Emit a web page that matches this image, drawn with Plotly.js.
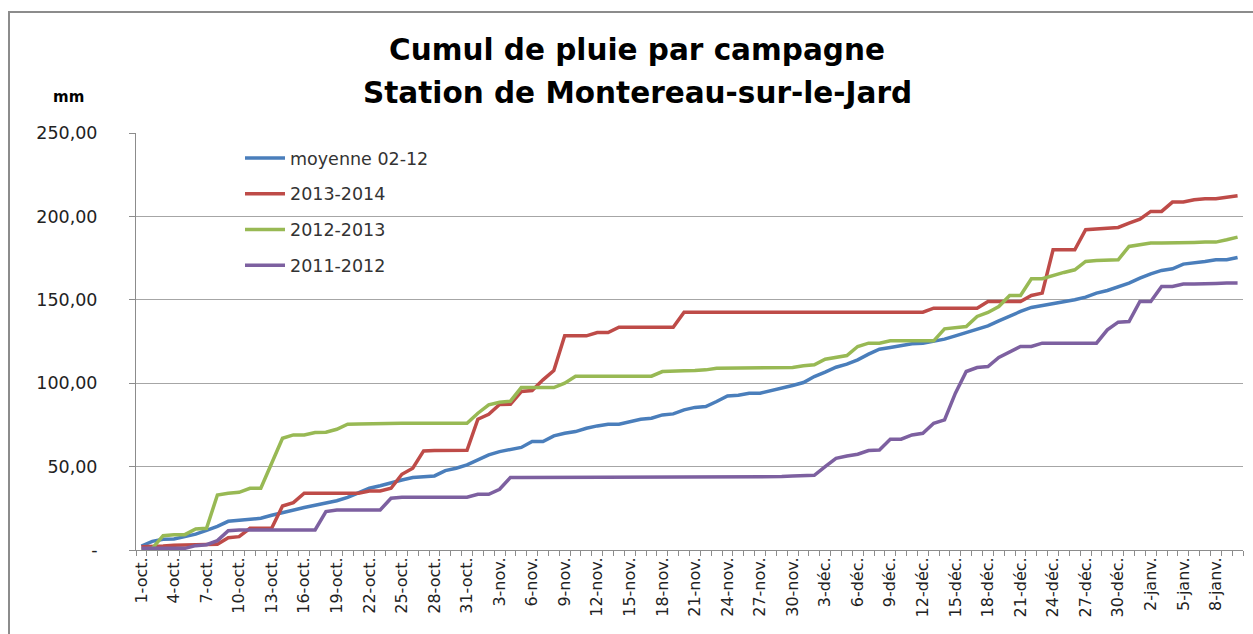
<!DOCTYPE html>
<html>
<head>
<meta charset="utf-8">
<script src="https://cdn.plot.ly/plotly-3.0.1.min.js"></script>
<style>
  html, body { margin: 0; padding: 0; background: #ffffff; }
  #chart { width: 1253px; height: 634px; }
</style>
</head>
<body>
<div id="chart"></div>
<script>
// Day categories: 1-oct. to 10-janv.
const monthNames = ["oct.", "nov.", "déc.", "janv."];
const monthDays = [31, 30, 31, 10];
const categories = [];
monthNames.forEach(function (m, k) {
  for (let d = 1; d <= monthDays[k]; d++) categories.push(d + "-" + m);
});

const yTickValues = [0, 50, 100, 150, 200, 250];
const yTickLabels = ["-", "50,00", "100,00", "150,00", "200,00", "250,00"];

const titleLines = ["Cumul de pluie par campagne", "Station de Montereau-sur-le-Jard"];
const unitLabel = "mm";

const moyenne0212 = [
  2.4, 5.2, 6.4, 6.6, 8, 9.5, 11.8, 14.2, 17.2, 17.8,
  18.2, 19, 20.8, 22.5, 24, 25.5, 26.8, 28, 29.5, 31.5,
  34, 37, 38.5, 40.5, 42, 43.5, 44.2, 44.4, 47.6, 49,
  51, 54, 57, 59, 60.4, 61.5, 65, 65, 68.4, 70,
  71, 73, 74.4, 75.4, 75.4, 77, 78.4, 79, 81, 81.6,
  84, 85.5, 86, 89, 92.4, 92.8, 94, 94, 95.4, 97,
  98.6, 100.4, 104, 106.6, 109.6, 111.4, 114, 117.4, 120.4, 121.4,
  122.6, 123.6, 124, 125.4, 126.4, 128.4, 130.4, 132.4, 134.4, 137.4,
  140.4, 143, 145.4, 146.6, 147.6, 148.6, 150, 151.6, 154, 155.6,
  158, 160, 163, 165.6, 167.6, 168.6, 171.4, 172, 173, 174,
  174, 175.4
];

const s2013_2014 = [
  2, 2, 2.4, 2.8, 3, 3.2, 3.4, 3.4, 7.4, 8,
  13, 13, 13, 26.4, 28.4, 34, 34, 34, 34, 34,
  34, 35.4, 35.4, 37, 45.4, 49, 59.4, 59.6, 59.6, 59.6,
  59.8, 78.4, 81.4, 87.2, 87.4, 95, 95.6, 102, 107.6, 128.4,
  128.4, 128.4, 130.4, 130.4, 133.6, 133.6, 133.6, 133.6, 133.6, 133.6,
  142.6, 142.6, 142.6, 142.6, 142.6, 142.6, 142.6, 142.6, 142.6, 142.6,
  142.6, 142.6, 142.6, 142.6, 142.6, 142.6, 142.6, 142.6, 142.6, 142.6,
  142.6, 142.6, 142.6, 145, 145, 145, 145, 145, 149, 149,
  149, 149, 152.6, 154, 180, 180, 180, 192, 192.4, 192.6,
  193.4, 196, 198.4, 203, 203, 208.6, 208.6, 210, 210.6, 210.6,
  211.4, 212.4
];

const s2012_2013 = [
  0.5, 1, 8.6, 9.2, 9.2, 12.6, 13, 33, 34, 34.6,
  37, 37, 52, 67, 69, 69, 70.4, 70.6, 72.4, 75.4,
  75.6, 75.8, 76, 76, 76, 76, 76, 76, 76, 76,
  76, 82, 87, 88.6, 89.2, 97.4, 97.4, 97.4, 97.4, 100,
  104.2, 104.2, 104.2, 104.2, 104.2, 104.2, 104.2, 104.2, 107, 107,
  107.4, 107.6, 108, 109, 109, 109, 109, 109.4, 109.4, 109.4,
  109.4, 110.4, 111, 114.4, 115.6, 116.6, 122, 124, 124, 125.4,
  125.4, 125.4, 125.4, 125.4, 132.6, 133.2, 134, 140, 142.4, 146,
  152.6, 152.6, 162.6, 162.6, 164.6, 166.4, 168, 173, 173.6, 174,
  174, 182, 183, 184, 184, 184, 184, 184.4, 184.6, 184.6,
  186, 187.6
];

const s2011_2012 = [
  1, 1, 1, 1, 1, 2.6, 3.2, 5.6, 11.6, 12,
  12, 12, 12, 12, 12, 12, 12, 23, 24, 24,
  24, 24, 24, 31, 31.6, 31.6, 31.6, 31.6, 31.6, 31.6,
  31.6, 33.4, 33.4, 36.4, 43.5, 43.5, 43.5, 43.5, 43.5, 43.5,
  43.5, 43.5, 43.5, 43.5, 43.5, 43.5, 43.5, 43.5, 43.5, 43.5,
  43.5, 43.5, 43.5, 43.5, 43.5, 43.5, 43.5, 43.5, 43.6, 44,
  44.4, 44.6, 44.8, 50, 55, 56.4, 57.4, 59.6, 60, 66.4,
  66.4, 69, 70, 76, 78, 94, 107, 109.4, 110, 115.4,
  118.6, 122, 122, 124, 124, 124, 124, 124, 124, 132,
  136.6, 137, 149, 149, 158, 158, 159.4, 159.4, 159.4, 159.8,
  160, 160
];

const xTickText = categories.map(function (c, i) { return i % 3 === 0 ? c : ""; });

const seriesNames = ["moyenne 02-12", "2013-2014", "2012-2013", "2011-2012"];
const seriesData = [moyenne0212, s2013_2014, s2012_2013, s2011_2012];
const seriesColors = ["#4A7EBB", "#BE4B48", "#98B954", "#7D60A0"];

const traces = seriesNames.map(function (name, k) {
  return {
    type: "scatter",
    mode: "lines",
    name: name,
    legendgroup: "g" + k,
    x: categories,
    y: seriesData[k],
    line: { color: seriesColors[k], width: 3.5 }
  };
});

const FONT = "'DejaVu Sans', 'Liberation Sans', sans-serif";
const PL = 136, PR = 1243, PT = 133, PB = 550;
function px(x) { return (x - PL) / (PR - PL); }
function py(y) { return (PB - y) / (PB - PT); }

const layout = {
  width: 1253,
  height: 634,
  margin: { l: PL, r: 1253 - PR, t: PT, b: 634 - PB },
  paper_bgcolor: "#ffffff",
  plot_bgcolor: "#ffffff",
  font: { family: FONT, color: "#222222" },
  showlegend: true,
  legend: {
    x: px(240),
    y: py(140),
    xanchor: "left",
    yanchor: "top",
    bgcolor: "rgba(255,255,255,0)",
    font: { family: FONT, size: 17.5, color: "#333333" },
    tracegroupgap: 10,
    itemwidth: 40
  },
  xaxis: {
    type: "category",
    categoryorder: "array",
    categoryarray: categories,
    tickmode: "array",
    tickvals: categories,
    ticktext: xTickText,
    tickangle: -90,
    tickson: "boundaries",
    ticks: "outside",
    ticklen: 5,
    tickcolor: "#8c8c8c",
    tickfont: { family: FONT, size: 16, color: "#222222" },
    showgrid: false,
    showline: true,
    linecolor: "#8c8c8c",
    linewidth: 1,
    zeroline: false,
    range: [-0.5, categories.length - 0.5],
    fixedrange: true
  },
  yaxis: {
    range: [0, 250],
    tickmode: "array",
    tickvals: yTickValues,
    ticktext: yTickLabels,
    ticks: "outside",
    ticklen: 6,
    tickcolor: "#8c8c8c",
    ticklabelstandoff: 28,
    tickfont: { family: FONT, size: 17.5, color: "#222222" },
    showgrid: true,
    gridcolor: "#a6a6a6",
    gridwidth: 1,
    showline: true,
    linecolor: "#8c8c8c",
    linewidth: 1,
    zeroline: false,
    fixedrange: true
  },
  annotations: [
    {
      text: "<b>" + titleLines[0] + "</b>",
      xref: "paper", yref: "paper",
      x: px(637), y: py(50),
      xanchor: "center", yanchor: "middle",
      showarrow: false,
      font: { family: FONT, size: 29.5, color: "#000000" }
    },
    {
      text: "<b>" + titleLines[1] + "</b>",
      xref: "paper", yref: "paper",
      x: px(637), y: py(93),
      xanchor: "center", yanchor: "middle",
      showarrow: false,
      font: { family: FONT, size: 29.5, color: "#000000" }
    },
    {
      text: "<b>" + unitLabel + "</b>",
      xref: "paper", yref: "paper",
      x: px(68), y: py(97),
      xanchor: "center", yanchor: "middle",
      showarrow: false,
      font: { family: FONT, size: 15, color: "#000000" }
    }
  ],
  shapes: [
    {
      type: "rect",
      xref: "paper", yref: "paper",
      x0: px(9), x1: px(1262),
      y0: py(700), y1: py(12),
      line: { color: "#8c8c8c", width: 2 },
      fillcolor: "rgba(0,0,0,0)",
      layer: "below"
    }
  ]
};

Plotly.newPlot("chart", traces, layout, { displayModeBar: false, staticPlot: true });
</script>
</body>
</html>
